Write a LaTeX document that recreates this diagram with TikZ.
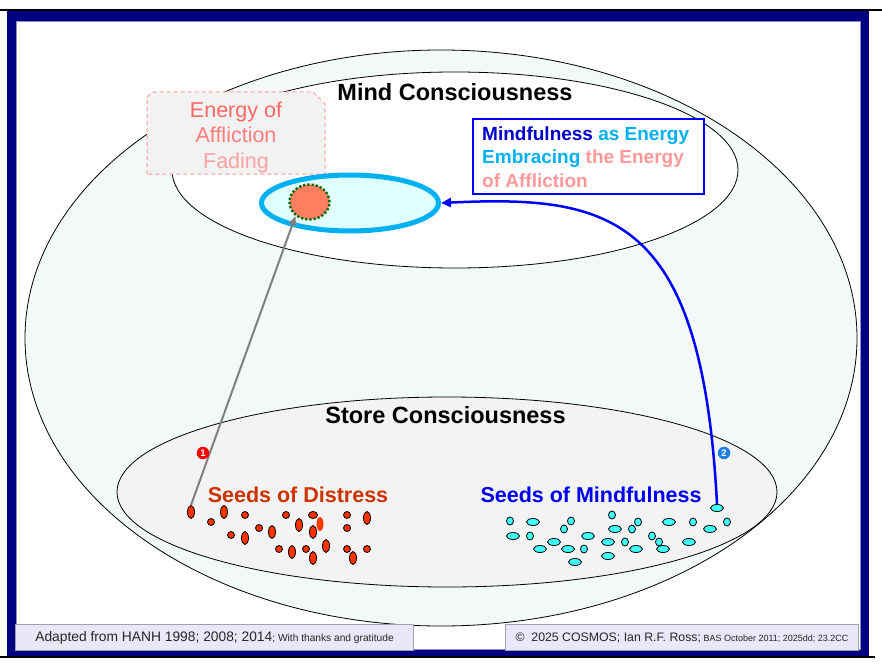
\documentclass[tikz,border=0pt]{standalone}
\usepackage{fontspec}
\setmainfont{Liberation Sans}
\usetikzlibrary{arrows.meta,shapes.geometric}

\definecolor{framenavy}{HTML}{000080}
\definecolor{frameedge}{HTML}{8C8CD0}
\definecolor{ringfill}{HTML}{F3F8F8}
\definecolor{storefill}{HTML}{F3F3F3}
\definecolor{distress}{HTML}{CC3300}
\definecolor{seedred}{HTML}{FF3300}
\definecolor{seedcyan}{HTML}{3FFFFF}
\definecolor{mindblue}{HTML}{0000F0}
\definecolor{deepblue}{HTML}{0000CC}
\definecolor{embcyan}{HTML}{00B0F0}
\definecolor{embfill}{HTML}{E0FFFF}
\definecolor{afflict}{HTML}{FF7F5F}
\definecolor{dotgreen}{HTML}{006600}
\definecolor{pinktext}{HTML}{FF9999}
\definecolor{fadeA}{HTML}{FF6666}
\definecolor{fadeB}{HTML}{FF7C7C}
\definecolor{fadeC}{HTML}{FFA0A0}
\definecolor{fadebox}{HTML}{F2F2F2}
\definecolor{footfill}{HTML}{E8E8F8}
\definecolor{footline}{HTML}{A0A0B0}
\definecolor{badgeblue}{HTML}{1F7FE0}

\tikzset{
  region/.style={draw=black, line width=0.8pt},
  seedD/.style={ellipse, draw=black, line width=0.8pt, fill=seedred, inner sep=0pt},
  tallD/.style={seedD, minimum width=7pt, minimum height=13pt},
  roundD/.style={seedD, minimum width=7pt, minimum height=7pt},
  wideD/.style={seedD, minimum width=9pt, minimum height=7pt},
  seedM/.style={ellipse, draw=black, line width=0.8pt, fill=seedcyan, inner sep=0pt},
  wideM/.style={seedM, minimum width=13pt, minimum height=7pt},
  smallM/.style={seedM, minimum width=7pt, minimum height=8pt},
  title/.style={font=\fontsize{23.5}{28}\selectfont\bfseries, inner sep=0pt},
  seedtitle/.style={font=\fontsize{21.5}{26}\selectfont\bfseries, inner sep=0pt},
  badge/.style={circle, inner sep=0pt, minimum size=12.5pt, text=white,
    font=\fontsize{9.5}{10}\selectfont\bfseries},
  footbox/.style={draw=footline, line width=1pt, fill=footfill, inner sep=0pt,
    minimum height=26pt, text=black!85},
  arrowgray/.style={draw=gray, line width=2pt, -{Triangle[length=9pt,width=7pt]}},
  arrowblue/.style={draw=blue, line width=2.5pt, -{Triangle[length=10pt,width=9pt]}}
}

\begin{document}
\begin{tikzpicture}[x=1pt,y=-1pt]
\useasboundingbox (0,0) rectangle (882,666);
\fill[white] (0,0) rectangle (882,666);

% page frame
\fill[framenavy] (7,11) rectangle (869,656);
\fill[white] (16,21) rectangle (860,649);
\draw[frameedge, line width=0.8pt] (16,21) rectangle (860,649);
\draw[black, line width=1.6pt] (0,10.2) -- (882,10.2);
\draw[black, line width=1.6pt] (0,657.2) -- (875,657.2);

% consciousness regions
\draw[region, fill=ringfill] (441,338) ellipse [x radius=416pt, y radius=288pt];
\draw[region, fill=white] (455,170) ellipse [x radius=283pt, y radius=98pt];
\draw[region, fill=storefill] (447,492) ellipse [x radius=330pt, y radius=95pt];

% fading energy label
\draw[draw=pinktext, line width=1pt, dash pattern=on 4pt off 3pt, fill=fadebox]
  (147,174) -- (147,100) .. controls (147,95.6) and (150.6,92) .. (155,92)
  -- (313,92) -- (325,104) -- (325,174) -- cycle;
\node[inner sep=0pt, anchor=north, align=center,
      font=\fontsize{21.5}{25.8}\selectfont] (fading) at (236,101.3)
  {\textcolor{fadeA}{Energy of}\\\textcolor{fadeB}{Affliction}\\\textcolor{fadeC}{Fading}};

% embracing energy
\node[ellipse, draw=embcyan, line width=5pt, fill=embfill, inner sep=0pt,
      minimum width=177pt, minimum height=56pt] (emb) at (350,203) {};
\node[ellipse, draw=dotgreen, line width=2.4pt, dash pattern=on 2.2pt off 2pt,
      fill=afflict, inner sep=0pt, minimum width=40pt, minimum height=35pt] (aff) at (309.5,202) {};

% mindfulness label
\node[draw=blue, line width=2pt, fill=white, inner sep=0pt, anchor=north west,
      minimum width=231pt, minimum height=75pt] (mfbox) at (472,118) {};
\node[inner sep=0pt, anchor=north west, align=left,
      font=\fontsize{19}{23.5}\selectfont\bfseries] (mftext) at (482,126.4)
  {\textcolor{deepblue}{Mindfulness} \textcolor{embcyan}{as Energy}\\
   \textcolor{embcyan}{Embracing} \textcolor{pinktext}{the Energy}\\
   \textcolor{pinktext}{of Affliction}};

% titles
\node[title, anchor=base] (mind) at (455,101) {Mind Consciousness};
\node[title, anchor=base] (store) at (445.5,423.5) {Store Consciousness};
\node[seedtitle, anchor=base, text=distress] (sdlabel) at (298,502.7) {Seeds of Distress};
\node[seedtitle, anchor=base, text=mindblue] (smlabel) at (591,502.7) {Seeds of Mindfulness};

% seeds of distress
\node[tallD] (d1) at (191,512) {};
\foreach \px/\py [count=\i] in {224/512, 245/538, 272/532, 292/552, 299/525,
    313/532, 313/558, 326/546, 353/558, 367/518}
  \node[tallD] (dt\i) at (\px,\py) {};
\foreach \px/\py [count=\i] in {211/522, 245/515, 231/535, 259/528, 286/515,
    279/549, 306/549, 347/515, 347/528, 347/549, 367/549}
  \node[roundD] (dr\i) at (\px,\py) {};
\node[wideD] (dw1) at (313,515) {};
\node[ellipse, fill=seedred!92!orange, inner sep=0pt, minimum width=7pt,
      minimum height=14pt] (dglow) at (320,524) {};

% seeds of mindfulness
\node[wideM] (m1) at (717,508) {};
\foreach \px/\py [count=\i] in {510/521, 571/521, 564/529, 612/515, 638/522,
    632/529, 693/522, 727/522, 530/536, 584/549, 625/542, 652/536, 659/542}
  \node[smallM] (ms\i) at (\px,\py) {};
\foreach \px/\py [count=\i] in {533/522, 615/529, 669/522, 710/529, 513/536,
    554/542, 588/536, 540/549, 568/549, 608/542, 636/549, 663/549, 689/542,
    575/562, 608/556}
  \node[wideM] (mw\i) at (\px,\py) {};

% connectors
\draw[arrowgray] (d1.north) -- (aff.225);
\draw[arrowblue] (m1.north) .. controls +(-15,-290) and +(170,-8) .. (emb.east);

% step badges
\node[badge, fill=red] (b1) at (203,453) {1};
\node[badge, fill=badgeblue] (b2) at (724,453) {2};

% credits
\node[footbox, anchor=north west, minimum width=398pt] (credit) at (15,624)
  {{\fontsize{13.8}{16}\selectfont Adapted from HANH 1998; 2008; 2014}{\fontsize{10.2}{12}\selectfont; With thanks and gratitude}};
\node[footbox, anchor=north west, minimum width=353pt] (copy) at (505,624)
  {{\fontsize{12.3}{15}\selectfont \textcopyright\ \ 2025 COSMOS; Ian R.F. Ross;}{\fontsize{9}{11}\selectfont\ BAS October 2011; 2025dd; 23.2CC}};
\end{tikzpicture}
\end{document}
